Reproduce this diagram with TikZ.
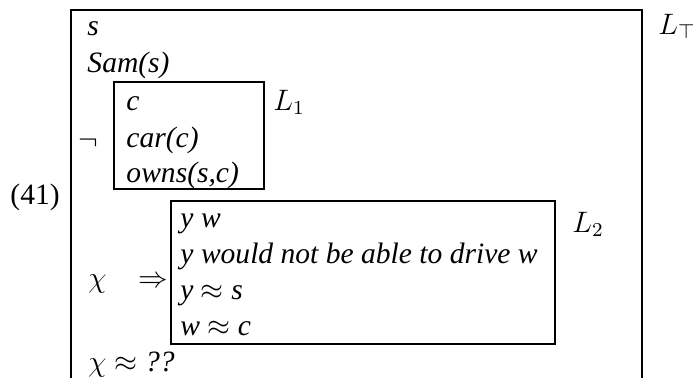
\documentclass[tikz,border=0pt]{standalone}
\usepackage{fontspec}
\setmainfont{Liberation Serif}
\begin{document}
\begin{tikzpicture}[x=0.406pt,y=-0.406pt,
  txt/.style={anchor=base west,inner sep=0pt,font=\fontsize{12}{14}\selectfont\itshape},
  lbl/.style={anchor=base west,inner sep=0pt,font=\fontsize{12}{14}\selectfont},
  drs/.style={draw,line width=0.8pt}]
\useasboundingbox (0,0) rectangle (694,378);
% outer box (open at bottom)
\draw[line width=0.8pt] (71,378) -- (71,10) -- (642,10) -- (642,378);
\node[lbl] (ltop) at (658,34) {$L_\top$};
\node[lbl] (ex) at (10,204) {(41)};
\node[txt] (s) at (87,35) {s};
\node[txt] (sam) at (87,72) {Sam(s)};
% L1
\draw[drs] (114,82) rectangle (264,189);
\node[lbl] (neg) at (78,149) {$\neg$};
\node[txt] (c) at (126,110) {c};
\node[txt] (car) at (126,147) {car(c)};
\node[txt] (owns) at (126,182) {owns(s,c)};
\node[lbl] (l1) at (273,110) {$L_1$};
% L2
\draw[drs] (171,201) rectangle (555,344);
\node[lbl] (chi) at (88,287) {$\chi$};
\node[lbl] (imp) at (138,287) {$\Rightarrow$};
\node[txt] (yw) at (180,227) {y w};
\node[txt] (drive) at (180,263) {y would not be able to drive w};
\node[txt] (ys) at (180,299) {y $\approx$ s};
\node[txt] (wc) at (180,335) {w $\approx$ c};
\node[lbl] (l2) at (572,232) {$L_2$};
\node[txt] (chiq) at (88,371) {$\chi\approx$ ??};
\end{tikzpicture}
\end{document}
